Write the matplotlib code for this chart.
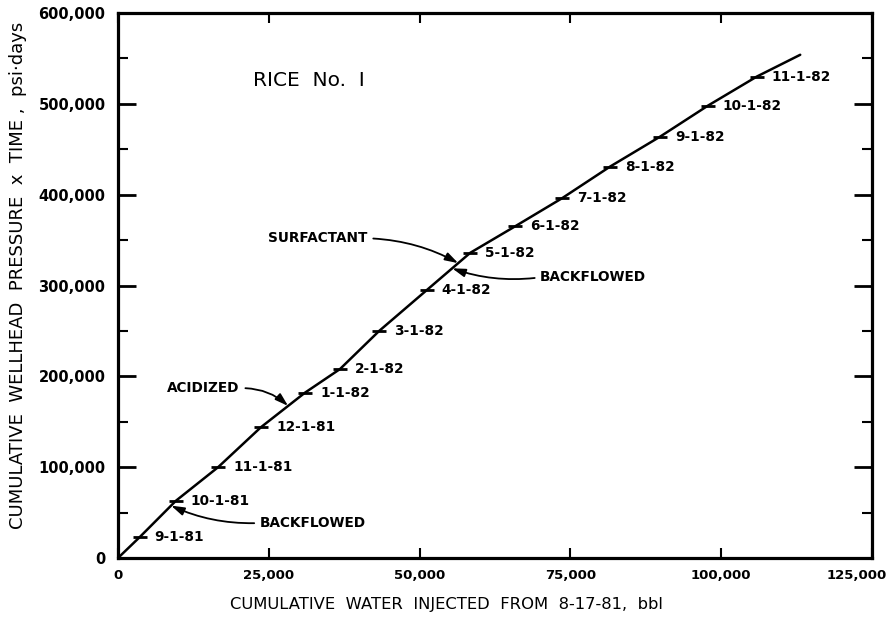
import numpy as np
import matplotlib
matplotlib.use('Agg')
import matplotlib.pyplot as plt
from matplotlib.ticker import MultipleLocator, FuncFormatter

# Cumulative water injected (bbl) vs cumulative wellhead pressure x time (psi-days)
water_inj = [0, 3600, 9600, 16600, 23700, 31000, 36800, 43300, 51200, 58400,
             65800, 73600, 81600, 89900, 97800, 105900, 113100]
press_time = [0, 23000, 63000, 100000, 144000, 182000, 208000, 250000, 295000, 336000,
              365000, 396000, 431000, 464000, 498000, 530000, 554000]

# monthly dates marked on the curve (index into the arrays above)
date_labels = ['9-1-81', '10-1-81', '11-1-81', '12-1-81', '1-1-82', '2-1-82', '3-1-82',
               '4-1-82', '5-1-82', '6-1-82', '7-1-82', '8-1-82', '9-1-82', '10-1-82', '11-1-82']
date_idx = list(range(1, 16))

# well treatments (water injected when they happened)
events = ['BACKFLOWED', 'ACIDIZED', 'SURFACTANT', 'BACKFLOWED']
event_x = [8800, 28200, 56400, 55400]

x_max = 125000
y_max = 600000

plt.rcParams['font.family'] = 'DejaVu Sans'

fig = plt.figure(figsize=(8.9, 6.23), dpi=100)
ax = fig.add_axes([118/890, 1-558/623, 754/890, 545/623])

ax.plot(water_inj, press_time, color='black', lw=1.8, solid_capstyle='round')

mx = [water_inj[i] for i in date_idx]
my = [press_time[i] for i in date_idx]
ax.plot(mx, my, ls='none', marker='_', ms=10, mew=2, color='black')
for lab, x, y in zip(date_labels, mx, my):
    ax.annotate(lab, (x, y), xytext=(15, 0), textcoords='offset pixels',
                ha='left', va='center', fontsize=9.8, fontweight='bold')

# treatment arrows
ev_y = np.interp(event_x, water_inj, press_time)
arrow = dict(arrowstyle='-|>,head_length=0.8,head_width=0.25', color='black',
             lw=1.3, shrinkA=2, shrinkB=0)
ax.annotate(events[0], (event_x[0], ev_y[0]), xytext=(23500, 38500),
            ha='left', va='center', fontsize=9.8, fontweight='bold',
            arrowprops=dict(arrow, relpos=(0, 0.5), connectionstyle='arc3,rad=-0.12'))
ax.annotate(events[1], (event_x[1], ev_y[1]), xytext=(20200, 187000),
            ha='right', va='center', fontsize=9.8, fontweight='bold',
            arrowprops=dict(arrow, relpos=(1, 0.5), connectionstyle='arc3,rad=-0.2'))
ax.annotate(events[2], (event_x[2], ev_y[2]), xytext=(41400, 352000),
            ha='right', va='center', fontsize=9.8, fontweight='bold',
            arrowprops=dict(arrow, relpos=(1, 0.5), connectionstyle='arc3,rad=-0.12'))
ax.annotate(events[3], (event_x[3], ev_y[3]), xytext=(70000, 309000),
            ha='left', va='center', fontsize=9.8, fontweight='bold',
            arrowprops=dict(arrow, relpos=(0, 0.5), connectionstyle='arc3,rad=-0.12'))

ax.text(22400, 526000, 'RICE  No.  I', fontsize=14.5, ha='left', va='center')

ax.set_xlim(0, x_max)
ax.set_ylim(0, y_max)
ax.xaxis.set_major_locator(MultipleLocator(25000))
ax.yaxis.set_major_locator(MultipleLocator(100000))
ax.yaxis.set_minor_locator(MultipleLocator(50000))
# the last x label is drawn by hand so it can sit left of the edge
ax.xaxis.set_major_formatter(FuncFormatter(lambda v, p: '' if v >= x_max else f'{int(v):,}'))
ax.yaxis.set_major_formatter(FuncFormatter(lambda v, p: f'{int(v):,}'))

ax.tick_params(axis='y', which='major', direction='in', length=13, width=2,
               left=True, right=True, pad=9, labelsize=10.5)
ax.tick_params(axis='y', which='minor', direction='in', length=7.5, width=1.5,
               left=True, right=True)
ax.tick_params(axis='x', which='major', direction='in', length=7, width=1.5,
               top=True, bottom=True, pad=8, labelsize=9.5)
for t in ax.get_xticklabels() + ax.get_yticklabels():
    t.set_fontweight('bold')
ax.annotate(f'{x_max:,}', xy=(x_max, 0), xycoords=('data', 'axes fraction'),
            xytext=(15, -11), textcoords='offset pixels', ha='right', va='top',
            fontsize=9.5, fontweight='bold', annotation_clip=False)

for s in ax.spines.values():
    s.set_linewidth(2.3)

fig.text(446/890, 1-605/623, 'CUMULATIVE  WATER  INJECTED  FROM  8-17-81,  bbl',
         ha='center', va='center', fontsize=11.8)
fig.text(18/890, 1-275/623, 'CUMULATIVE  WELLHEAD  PRESSURE  x  TIME ,  psi·days',
         ha='center', va='center', rotation=90, fontsize=13)

fig.savefig('out.png', dpi=100)
